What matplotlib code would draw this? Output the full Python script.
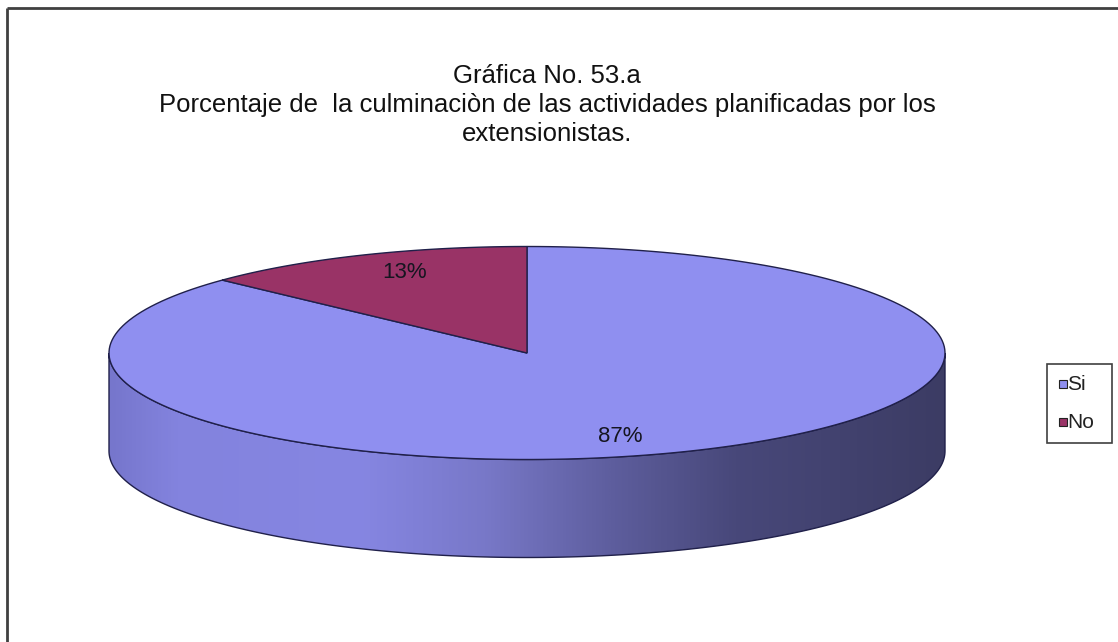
import numpy as np
import matplotlib.pyplot as plt
from matplotlib.patches import Polygon, Rectangle
from matplotlib.colors import LinearSegmentedColormap

# Datos de la gráfica
categorias = ["Si", "No"]
valores = [87, 13]
colores_cara = ["#8f8ff0", "#993366"]
titulo = "Gráfica No. 53.a\nPorcentaje de  la culminaciòn de las actividades planificadas por los\nextensionistas."

plt.rcParams["font.family"] = ["Liberation Sans", "DejaVu Sans"]

fig = plt.figure(figsize=(11.18, 6.42), dpi=100)
ax = fig.add_axes([0, 0, 1, 1])
ax.set_xlim(0, 1118)
ax.set_ylim(642, 0)
ax.axis("off")

# Marco del área del gráfico (solo borde superior e izquierdo visibles)
ax.plot([7, 1118], [8, 8], color="#404040", lw=2, solid_capstyle="butt")
ax.plot([7, 7], [8, 642], color="#404040", lw=2, solid_capstyle="butt")

# Geometría del pastel 3D
cx, cy = 527, 353
rx, ry = 418, 106.5
prof = 98
borde = "#20204a"


def punto(theta_deg, dy=0):
    t = np.radians(theta_deg)
    return cx + rx * np.cos(t), cy - ry * np.sin(t) + dy


# Pared lateral frontal (de 180 a 360 grados)
t = np.linspace(180, 360, 200)
xs_top, ys_top = punto(t)
xs_bot, ys_bot = punto(t[::-1], prof)
lateral = np.column_stack([np.r_[xs_top, xs_bot], np.r_[ys_top, ys_bot]])
poly_lat = Polygon(lateral, closed=True, facecolor="none", edgecolor=borde, lw=1.0, zorder=3)
ax.add_patch(poly_lat)

sombra = LinearSegmentedColormap.from_list(
    "lateral",
    [(0.0, "#7676cc"), (0.08, "#8383de"), (0.3, "#8686e2"), (0.45, "#7878c8"),
     (0.6, "#5e5e9e"), (0.75, "#48487a"), (1.0, "#3c3c64")],
)
grad = np.linspace(0, 1, 512).reshape(1, -1)
img = ax.imshow(grad, cmap=sombra, aspect="auto",
                extent=[cx - rx, cx + rx, cy + ry + prof + 2, cy - 2], zorder=2)
img.set_clip_path(poly_lat)

# Caras superiores de cada porción (empezando a las 12, sentido horario)
inicio = 90.0
total = sum(valores)
for cat, val, col in zip(categorias, valores, colores_cara):
    barrido = 360.0 * val / total
    a0, a1 = inicio, inicio - barrido
    tt = np.linspace(a0, a1, 200)
    xs, ys = punto(tt)
    pts = np.column_stack([np.r_[cx, xs, cx], np.r_[cy, ys, cy]])
    ax.add_patch(Polygon(pts, closed=True, facecolor=col, edgecolor=borde, lw=1.0, zorder=4))
    inicio = a1

# Etiquetas de porcentaje
ax.text(405, 272, f"{valores[1]}%", fontsize=16, ha="center", va="center", color="#151520", zorder=5)
ax.text(620, 437, f"{valores[0]}%", fontsize=16, ha="center", va="center", color="#151520", zorder=5)

# Título
ax.text(547, 105, titulo, fontsize=18.5, ha="center", va="center", linespacing=1.27, color="#111111")

# Leyenda
ax.add_patch(Rectangle((1047, 364), 65, 79, facecolor="white", edgecolor="#404040", lw=1.2, zorder=5))
for i, (cat, col) in enumerate(zip(categorias, colores_cara)):
    y = 384 + i * 38
    ax.add_patch(Rectangle((1059, y - 4), 8, 8, facecolor=col, edgecolor="#222222", lw=0.8, zorder=6))
    ax.text(1067, y, cat, fontsize=15, ha="left", va="center", color="#222222", zorder=6)

fig.savefig("out.png", dpi=100)
